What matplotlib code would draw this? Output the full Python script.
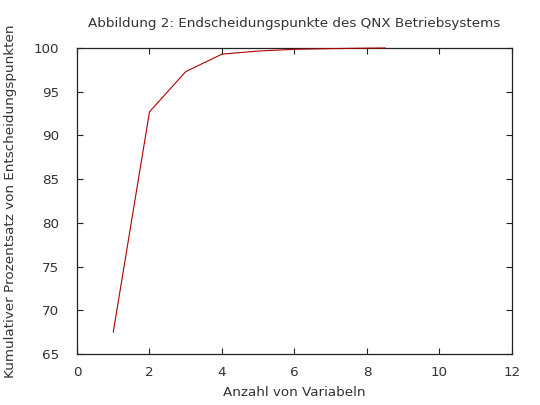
import matplotlib
matplotlib.use('Agg')
import matplotlib.pyplot as plt

# cumulative percentage of decision points vs number of variables
anzahl = [1, 2, 3, 4, 5, 6, 7, 8, 8.5]
prozent = [67.5, 92.7, 97.3, 99.3, 99.65, 99.85, 99.93, 99.98, 100.0]

x_ticks = [0, 2, 4, 6, 8, 10, 12]
y_ticks = [65, 70, 75, 80, 85, 90, 95, 100]

plt.rcParams['font.family'] = 'DejaVu Sans'
text_col = '#333333'

fig = plt.figure(figsize=(5.4, 4.05), dpi=100)
ax = fig.add_axes([0.1426, 0.126, 0.8055, 0.7555])

ax.plot(anzahl, prozent, color='#b00000', linewidth=0.8, zorder=5, clip_on=False)

ax.set_xlim(0, 12)
ax.set_ylim(65, 100)
ax.set_xticks(x_ticks)
ax.set_yticks(y_ticks)
ax.tick_params(direction='in', length=4, width=0.8, top=True, right=True,
               labelsize=9.7, labelcolor=text_col, color='#222222')
ax.tick_params(axis='x', pad=9)
ax.tick_params(axis='y', pad=13)
for s in ax.spines.values():
    s.set_linewidth(0.9)
    s.set_color('#222222')

ax.set_title('Abbildung 2: Endscheidungspunkte des QNX Betriebsystems',
             fontsize=9.7, color=text_col, pad=15)
ax.set_xlabel('Anzahl von Variabeln', fontsize=9.7, color=text_col, labelpad=5)
ax.set_ylabel('Kumulativer Prozentsatz von Entscheidungspunkten', fontsize=9.7,
              color=text_col, labelpad=12)

fig.savefig('out.png', dpi=100)
plt.close(fig)
